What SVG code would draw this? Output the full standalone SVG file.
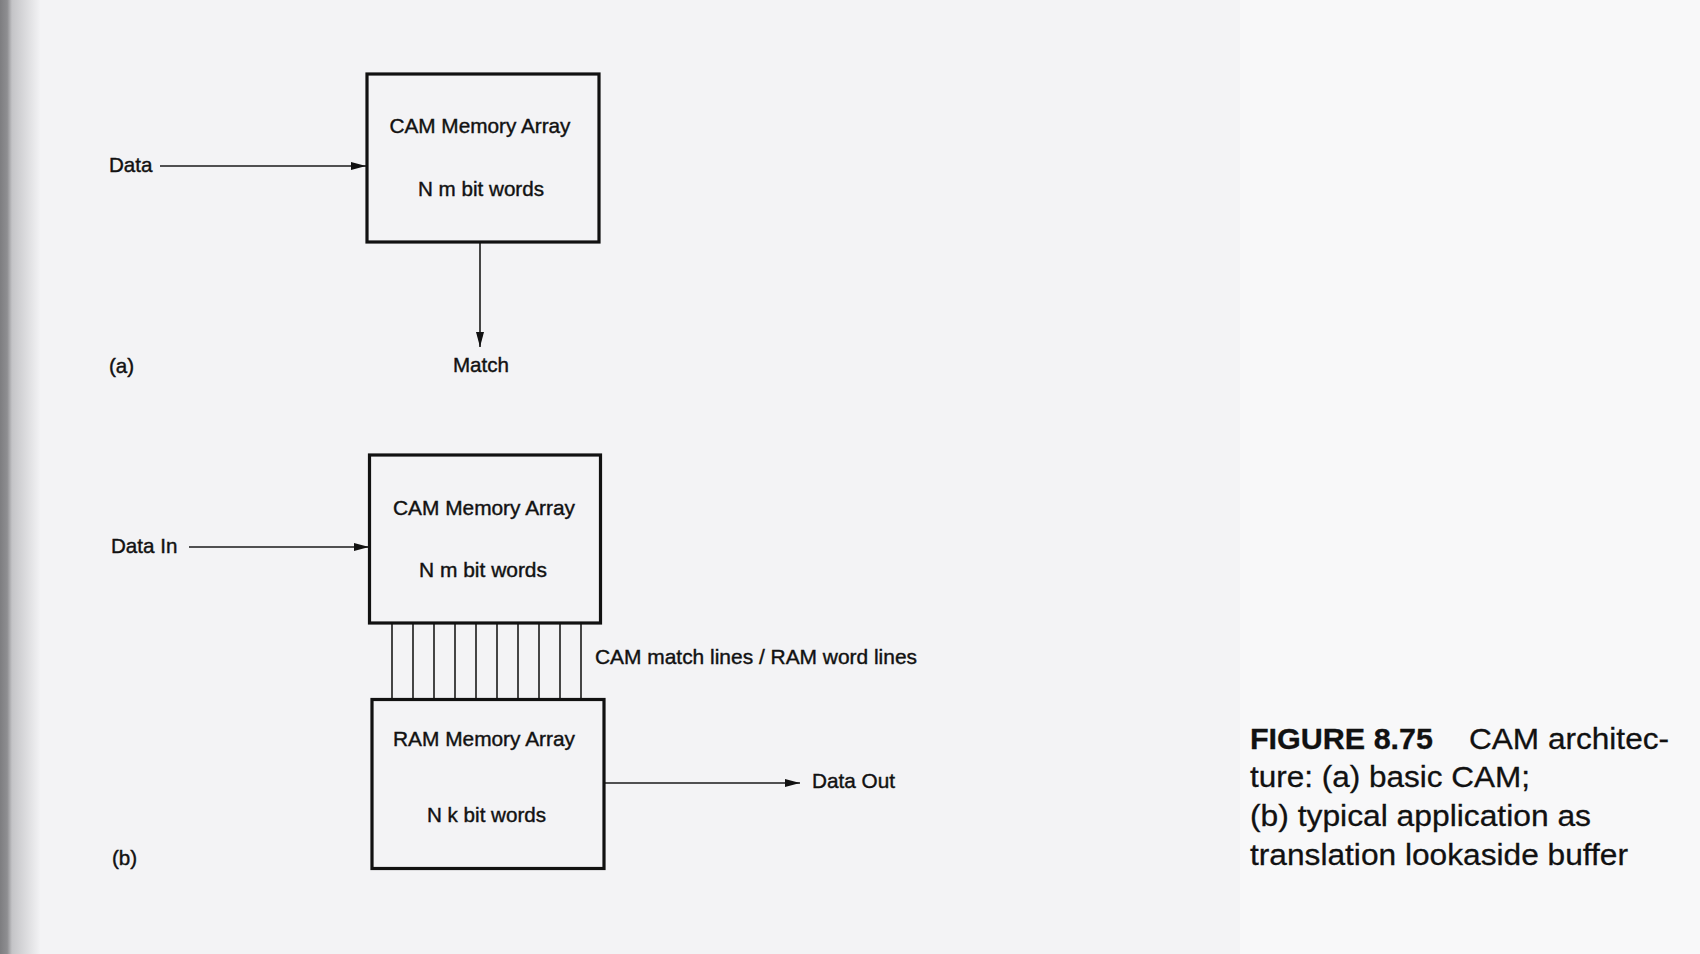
<svg xmlns="http://www.w3.org/2000/svg" width="1700" height="954" viewBox="0 0 1700 954">
<style>
.lbl{font-family:"Liberation Sans",Arial,sans-serif;font-size:20.6px;fill:#111;stroke:#111;stroke-width:0.4}
.cap{font-family:"Liberation Sans",Arial,sans-serif;font-size:30px;fill:#111;stroke:#111;stroke-width:0.3}
.box{fill:none;stroke:#111;stroke-width:3.2}
.wire{stroke:#1a1a1a;stroke-width:1.6;fill:none}
</style>
<defs>
<linearGradient id="edge" x1="0" y1="0" x2="1" y2="0">
<stop offset="0" stop-color="#7d7d80"/>
<stop offset="0.18" stop-color="#8e8e91"/>
<stop offset="0.3" stop-color="#c4c4c7"/>
<stop offset="1" stop-color="#f2f2f4"/>
</linearGradient>
<marker id="arr" viewBox="0 0 15 8" refX="15" refY="4" markerWidth="15" markerHeight="8" markerUnits="userSpaceOnUse" orient="auto">
<path d="M0,0 L15,4 L0,8 Z" fill="#111"/>
</marker>
</defs>
<rect x="0" y="0" width="1700" height="954" fill="#f3f3f5"/>
<rect x="1240" y="0" width="460" height="954" fill="#f8f8f9"/>
<rect x="0" y="0" width="40" height="954" fill="url(#edge)"/>

<g id="connectors">
<line class="wire" x1="160" y1="166" x2="366" y2="166" marker-end="url(#arr)"/>
<line class="wire" x1="480" y1="243" x2="480" y2="347" marker-end="url(#arr)"/>
<line class="wire" x1="189" y1="547" x2="369" y2="547" marker-end="url(#arr)"/>
<g id="matchlines">
<line class="wire" x1="392" y1="624" x2="392" y2="699"/>
<line class="wire" x1="413" y1="624" x2="413" y2="699"/>
<line class="wire" x1="434" y1="624" x2="434" y2="699"/>
<line class="wire" x1="455" y1="624" x2="455" y2="699"/>
<line class="wire" x1="476" y1="624" x2="476" y2="699"/>
<line class="wire" x1="497" y1="624" x2="497" y2="699"/>
<line class="wire" x1="518" y1="624" x2="518" y2="699"/>
<line class="wire" x1="539" y1="624" x2="539" y2="699"/>
<line class="wire" x1="560" y1="624" x2="560" y2="699"/>
<line class="wire" x1="581" y1="624" x2="581" y2="699"/>
</g>
<line class="wire" x1="605" y1="783" x2="800" y2="783" marker-end="url(#arr)"/>
</g>

<g id="label-data"><text class="lbl" x="109" y="172">Data</text></g>
<g id="cam-a">
<rect class="box" x="367" y="74" width="232" height="168"/>
<text class="lbl" x="480" y="133" text-anchor="middle" textLength="181" lengthAdjust="spacingAndGlyphs">CAM Memory Array</text>
<text class="lbl" x="481" y="196" text-anchor="middle" textLength="126" lengthAdjust="spacingAndGlyphs">N m bit words</text>
</g>
<g id="label-match"><text class="lbl" x="481" y="372" text-anchor="middle">Match</text></g>
<g id="label-a"><text class="lbl" x="109" y="373">(a)</text></g>

<g id="label-datain"><text class="lbl" x="111" y="553">Data In</text></g>
<g id="cam-b">
<rect class="box" x="369.5" y="455" width="231" height="168"/>
<text class="lbl" x="484" y="515" text-anchor="middle" textLength="182" lengthAdjust="spacingAndGlyphs">CAM Memory Array</text>
<text class="lbl" x="483" y="577" text-anchor="middle" textLength="128" lengthAdjust="spacingAndGlyphs">N m bit words</text>
</g>
<g id="label-matchlines"><text class="lbl" x="595" y="664" textLength="322" lengthAdjust="spacingAndGlyphs">CAM match lines / RAM word lines</text></g>
<g id="ram-b">
<rect class="box" x="372" y="699.5" width="232" height="169"/>
<text class="lbl" x="484" y="746" text-anchor="middle" textLength="182" lengthAdjust="spacingAndGlyphs">RAM Memory Array</text>
<text class="lbl" x="486.5" y="822" text-anchor="middle" textLength="119" lengthAdjust="spacingAndGlyphs">N k bit words</text>
</g>
<g id="label-dataout"><text class="lbl" x="812" y="788" textLength="83" lengthAdjust="spacingAndGlyphs">Data Out</text></g>
<g id="label-b"><text class="lbl" x="112" y="865">(b)</text></g>

<g id="caption">
<text class="cap" x="1250" y="749" font-weight="bold" textLength="183" lengthAdjust="spacingAndGlyphs">FIGURE 8.75</text>
<text class="cap" x="1469" y="749" textLength="200" lengthAdjust="spacingAndGlyphs">CAM architec-</text>
<text class="cap" x="1250" y="787" textLength="280" lengthAdjust="spacingAndGlyphs">ture: (a) basic CAM;</text>
<text class="cap" x="1250" y="826" textLength="341" lengthAdjust="spacingAndGlyphs">(b) typical application as</text>
<text class="cap" x="1250" y="865" textLength="378" lengthAdjust="spacingAndGlyphs">translation lookaside buffer</text>
</g>
</svg>
